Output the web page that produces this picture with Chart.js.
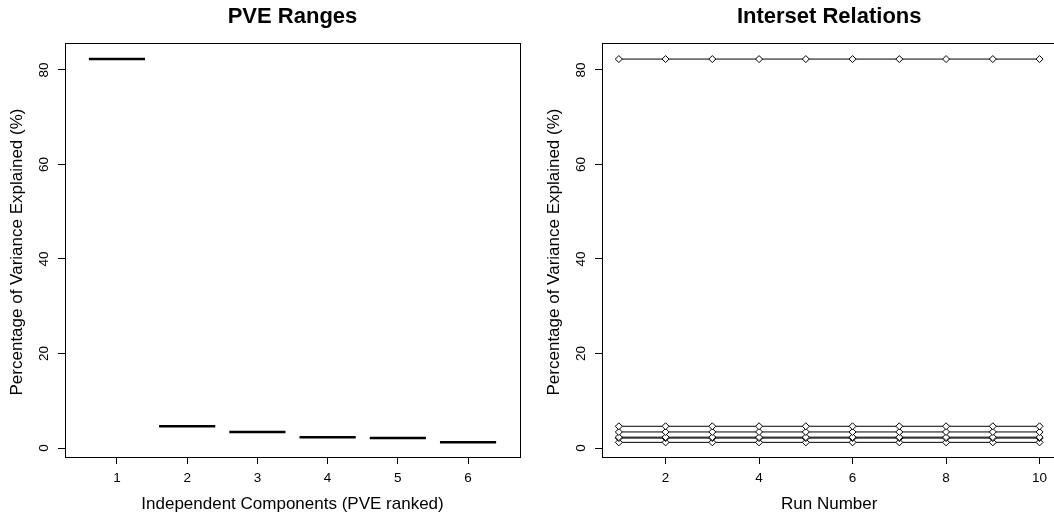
<!DOCTYPE html>
<html>
<head>
<meta charset="utf-8">
<script src="https://cdn.jsdelivr.net/npm/chart.js@4"></script>
<style>
  body { margin: 0; background: #fff; }
  #wrap { position: relative; width: 1054px; height: 517px; overflow: hidden; background: #fff; }
  #pveChart { position: absolute; left: 0; top: 0; }
  #runChart { position: absolute; left: 527px; top: 0; }
</style>
</head>
<body>
<div id="wrap">
  <canvas id="pveChart" width="527" height="517"></canvas>
  <canvas id="runChart" width="540" height="517"></canvas>
</div>
<script>
// data
const components = [1, 2, 3, 4, 5, 6];
const pveValues = [82.3, 4.6, 3.4, 2.3, 2.1, 1.2];

const runs = [1, 2, 3, 4, 5, 6, 7, 8, 9, 10];
const ic1Runs = [82.3, 82.3, 82.3, 82.3, 82.3, 82.3, 82.3, 82.3, 82.3, 82.3];
const ic2Runs = [4.6, 4.6, 4.6, 4.6, 4.6, 4.6, 4.6, 4.6, 4.6, 4.6];
const ic3Runs = [3.4, 3.4, 3.4, 3.4, 3.4, 3.4, 3.4, 3.4, 3.4, 3.4];
const ic4Runs = [2.3, 2.3, 2.3, 2.3, 2.3, 2.3, 2.3, 2.3, 2.3, 2.3];
const ic5Runs = [2.1, 2.1, 2.1, 2.1, 2.1, 2.1, 2.1, 2.1, 2.1, 2.1];
const ic6Runs = [1.2, 1.2, 1.2, 1.2, 1.2, 1.2, 1.2, 1.2, 1.2, 1.2];

const pveTicks = [0, 20, 40, 60, 80];
const componentTicks = [1, 2, 3, 4, 5, 6];
const runTicks = [2, 4, 6, 8, 10];

const boxHalfWidth = 0.4;
const FONT = '"Liberation Sans", Arial, Helvetica, sans-serif';

// R-like box, titles and rotated tick labels
const rStyle = {
    id: 'rStyle',
    afterDraw(chart, args, opts) {
        const ctx = chart.ctx;
        const a = chart.chartArea;
        const xs = chart.scales.x;
        const ys = chart.scales.y;
        ctx.save();
        ctx.strokeStyle = '#000';
        ctx.lineWidth = 1;
        ctx.strokeRect(Math.round(a.left) + 0.5, Math.round(a.top) + 0.5,
            Math.round(a.right - a.left), Math.round(a.bottom - a.top));

        ctx.fillStyle = '#000';
        ctx.textAlign = 'center';
        ctx.textBaseline = 'middle';

        ctx.font = 'bold 22px ' + FONT;
        ctx.fillText(opts.title, (a.left + a.right) / 2, 17);

        ctx.font = '13.5px ' + FONT;
        xs.ticks.forEach(t => {
            ctx.fillText(String(t.value), xs.getPixelForValue(t.value), 478);
        });
        ys.ticks.forEach(t => {
            ctx.save();
            ctx.translate(a.left - 21, ys.getPixelForValue(t.value));
            ctx.rotate(-Math.PI / 2);
            ctx.fillText(String(t.value), 0, 0);
            ctx.restore();
        });

        ctx.font = '17px ' + FONT;
        ctx.fillText(opts.xLabel, (a.left + a.right) / 2, 504);
        ctx.save();
        ctx.translate(a.left - 48, (a.top + a.bottom) / 2 + 2);
        ctx.rotate(-Math.PI / 2);
        ctx.fillText(opts.yLabel, 0, 0);
        ctx.restore();
        ctx.restore();
    }
};

function makeScales(xMin, xMax, xTicks, yWidth) {
    const grid = { display: true, drawOnChartArea: false, drawTicks: true, tickLength: 7, color: '#000', lineWidth: 1 };
    const border = { display: true, color: '#000', width: 1 };
    return {
        x: {
            type: 'linear', min: xMin, max: xMax,
            afterBuildTicks: s => { s.ticks = xTicks.map(v => ({ value: v })); },
            afterFit: s => { s.height = 60; },
            ticks: { display: false },
            grid: grid, border: border
        },
        y: {
            type: 'linear', min: -1.9, max: 85.7,
            afterBuildTicks: s => { s.ticks = pveTicks.map(v => ({ value: v })); },
            afterFit: s => { s.width = yWidth; },
            ticks: { display: false },
            grid: grid, border: border
        }
    };
}

function drawPveChart() {
    const ctx = document.getElementById('pveChart').getContext('2d');
    const datasets = components.map((c, i) => ({
        data: [{ x: c - boxHalfWidth, y: pveValues[i] }, { x: c + boxHalfWidth, y: pveValues[i] }],
        borderColor: '#000',
        borderWidth: 2.5,
        borderCapStyle: 'butt',
        pointRadius: 0,
        showLine: true
    }));
    new Chart(ctx, {
        type: 'scatter',
        data: { datasets: datasets },
        options: {
            responsive: false,
            animation: false,
            layout: { padding: { left: 0, right: 7, top: 43, bottom: 0 } },
            scales: makeScales(0.26, 6.74, componentTicks, 65),
            plugins: {
                legend: { display: false },
                tooltip: { enabled: false },
                rStyle: {
                    title: 'PVE Ranges',
                    xLabel: 'Independent Components (PVE ranked)',
                    yLabel: 'Percentage of Variance Explained (%)'
                }
            }
        },
        plugins: [rStyle]
    });
}

function drawRunChart() {
    const ctx = document.getElementById('runChart').getContext('2d');
    const series = [ic1Runs, ic2Runs, ic3Runs, ic4Runs, ic5Runs, ic6Runs];
    const datasets = series.map(vals => ({
        data: runs.map((r, i) => ({ x: r, y: vals[i] })),
        showLine: true,
        borderColor: '#000',
        borderWidth: 1,
        pointStyle: 'rectRot',
        pointRadius: 3.5,
        pointBackgroundColor: '#fff',
        pointBorderColor: '#000',
        pointBorderWidth: 1
    }));
    new Chart(ctx, {
        type: 'scatter',
        data: { datasets: datasets },
        options: {
            responsive: false,
            animation: false,
            layout: { padding: { left: 0, right: 10.6, top: 43, bottom: 0 } },
            scales: makeScales(0.64, 10.36, runTicks, 75),
            plugins: {
                legend: { display: false },
                tooltip: { enabled: false },
                rStyle: {
                    title: 'Interset Relations',
                    xLabel: 'Run Number',
                    yLabel: 'Percentage of Variance Explained (%)'
                }
            }
        },
        plugins: [rStyle]
    });
}

drawPveChart();
drawRunChart();
</script>
</body>
</html>
